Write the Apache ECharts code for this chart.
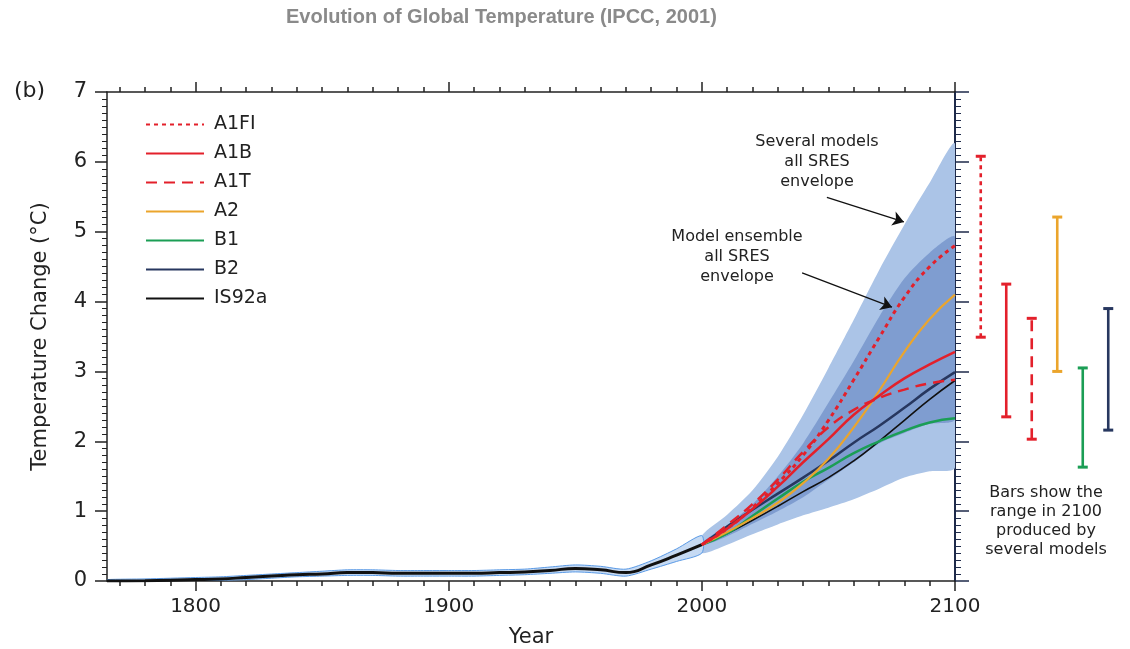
<!DOCTYPE html>
<html>
<head>
<meta charset="utf-8">
<title>Evolution of Global Temperature</title>
<script src="https://cdn.jsdelivr.net/npm/echarts@6/dist/echarts.min.js"></script>
<style>
  html, body { margin: 0; padding: 0; background: #fff; }
  #chart { width: 1130px; height: 649px; }
</style>
</head>
<body>
<div id="chart"></div>
<script>
// historical part (1765-2000)
const histYears = [1765, 1780, 1800, 1810, 1820, 1830, 1840, 1850, 1860, 1870, 1880, 1890, 1900, 1910, 1920, 1930, 1940, 1950, 1960, 1970, 1980, 1990, 2000]
const histTemp  = [0, 0.005, 0.02, 0.03, 0.05, 0.07, 0.09, 0.1, 0.12, 0.12, 0.11, 0.11, 0.11, 0.11, 0.12, 0.13, 0.15, 0.18, 0.16, 0.12, 0.23, 0.37, 0.52]
const histHigh  = [0.02, 0.03, 0.05, 0.06, 0.08, 0.1, 0.12, 0.14, 0.16, 0.16, 0.15, 0.15, 0.15, 0.15, 0.16, 0.17, 0.2, 0.23, 0.21, 0.17, 0.29, 0.46, 0.65]
const histLow   = [0, 0, 0, 0.01, 0.02, 0.04, 0.06, 0.07, 0.08, 0.08, 0.07, 0.07, 0.07, 0.07, 0.08, 0.09, 0.11, 0.13, 0.11, 0.07, 0.17, 0.28, 0.4]

// projections (2000-2100)
const futureYears = [2000, 2010, 2020, 2030, 2040, 2050, 2060, 2070, 2080, 2090, 2100]
const outerHigh = [0.65, 0.95, 1.3, 1.78, 2.38, 3.05, 3.74, 4.45, 5.1, 5.7, 6.25]
const outerLow  = [0.4, 0.52, 0.67, 0.81, 0.94, 1.05, 1.17, 1.32, 1.48, 1.57, 1.63]
const innerHigh = [0.55, 0.8, 1.1, 1.5, 1.97, 2.55, 3.15, 3.78, 4.33, 4.7, 4.92]
const innerLow  = [0.5, 0.64, 0.82, 1.0, 1.2, 1.45, 1.7, 1.97, 2.12, 2.25, 2.32]

const a1fi  = [0.52, 0.75, 1.05, 1.4, 1.8, 2.3, 2.88, 3.48, 4.06, 4.5, 4.8]
const a1b   = [0.52, 0.75, 1.03, 1.35, 1.7, 2.03, 2.38, 2.65, 2.9, 3.1, 3.28]
const a1t   = [0.52, 0.8, 1.1, 1.45, 1.85, 2.2, 2.45, 2.62, 2.74, 2.83, 2.88]
const a2    = [0.52, 0.7, 0.9, 1.12, 1.4, 1.75, 2.2, 2.72, 3.28, 3.75, 4.1]
const b1    = [0.52, 0.68, 0.93, 1.18, 1.42, 1.62, 1.83, 2.0, 2.15, 2.27, 2.33]
const b2    = [0.52, 0.78, 1.02, 1.25, 1.48, 1.72, 1.98, 2.22, 2.48, 2.75, 2.99]
const is92a = [0.52, 0.68, 0.87, 1.07, 1.28, 1.48, 1.72, 2.0, 2.3, 2.6, 2.87]

// ranges in 2100 (bars on the right)
const rangeNames = ['A1FI', 'A1B', 'A1T', 'A2', 'B1', 'B2']
const rangeLow   = [3.49, 2.35, 2.03, 3.0, 1.63, 2.16]
const rangeHigh  = [6.08, 4.25, 3.76, 5.21, 3.05, 3.9]

// tick labels
const majorYears = [1800, 1900, 2000, 2100]
const minorYears = Array.from({ length: 34 }, (_, i) => 1770 + i * 10)

const RED = '#e3202b'
const ORANGE = '#eba52c'
const GREEN = '#1b9e55'
const NAVY = '#27375f'
const BLACK = '#111111'
const FONT = 'DejaVu Sans'
const INK = '#222222'

const barStyles = [
  { color: RED, dash: [4, 4] },
  { color: RED, dash: null },
  { color: RED, dash: [11, 7] },
  { color: ORANGE, dash: null },
  { color: GREEN, dash: null },
  { color: NAVY, dash: null }
]

const pairs = (xs, ys) => xs.map((x, i) => [x, ys[i]])

const chart = echarts.init(document.getElementById('chart'))

const axisLineStyle = { color: INK, width: 1.5 }

const xCommon = {
  type: 'value',
  gridIndex: 0,
  min: 1765,
  max: 2100,
  splitLine: { show: false }
}

// filled envelope between two curves
const band = (xs, lo, hi, fill, stroke, z) => ({
  type: 'custom',
  xAxisIndex: 0,
  yAxisIndex: 0,
  z,
  silent: true,
  clip: true,
  data: xs.map((x, i) => [x, lo[i], hi[i]]),
  encode: { x: 0, y: [1, 2] },
  renderItem: (params, api) => {
    if (params.dataIndex !== 0) return null
    const top = xs.map((x, i) => api.coord([x, hi[i]]))
    const bot = xs.map((x, i) => api.coord([x, lo[i]])).reverse()
    return {
      type: 'polygon',
      shape: { points: top.concat(bot), smooth: 0.25 },
      style: { fill, stroke: stroke || null, lineWidth: stroke ? 1 : 0 }
    }
  }
})

const scenario = (name, values, color, width, type) => ({
  name,
  type: 'line',
  z: 5,
  smooth: true,
  symbol: 'none',
  data: pairs(futureYears, values),
  itemStyle: { color },
  lineStyle: { color, width, type }
})

const option = {
  animation: false,
  backgroundColor: '#ffffff',
  title: {
    text: 'Evolution of Global Temperature (IPCC, 2001)',
    left: 286,
    top: 7,
    padding: 0,
    textStyle: { color: '#8a8a8a', fontSize: 20, fontWeight: 'bold', fontFamily: 'Liberation Sans' }
  },
  legend: {
    orient: 'vertical',
    left: 145,
    top: 115,
    padding: 0,
    itemWidth: 58,
    itemHeight: 14,
    itemGap: 10,
    itemStyle: { opacity: 0 },
    textStyle: { color: INK, fontSize: 19, fontFamily: FONT, padding: [0, 0, 0, 5] },
    data: ['A1FI', 'A1B', 'A1T', 'A2', 'B1', 'B2', 'IS92a']
  },
  grid: [
    { left: 107, right: 175, top: 92, bottom: 68, outerBoundsMode: 'none' },
    { left: 968, right: 9, top: 92, bottom: 68, outerBoundsMode: 'none' }
  ],
  xAxis: [
    {
      ...xCommon,
      position: 'bottom',
      name: 'Year',
      nameLocation: 'middle',
      nameGap: 46,
      nameTextStyle: { color: INK, fontSize: 21, fontFamily: FONT },
      axisLine: { lineStyle: axisLineStyle },
      axisTick: { customValues: majorYears, length: 10, lineStyle: axisLineStyle },
      axisLabel: { customValues: majorYears, margin: 16, color: INK, fontSize: 20, fontFamily: FONT, formatter: v => String(v) }
    },
    {
      ...xCommon,
      position: 'bottom',
      axisLine: { show: false },
      axisTick: { customValues: minorYears, length: 5, lineStyle: axisLineStyle },
      axisLabel: { show: false }
    },
    {
      ...xCommon,
      position: 'top',
      axisLine: { lineStyle: axisLineStyle },
      axisTick: { customValues: majorYears, length: 10, lineStyle: axisLineStyle },
      axisLabel: { show: false }
    },
    {
      ...xCommon,
      position: 'top',
      axisLine: { show: false },
      axisTick: { customValues: minorYears, length: 5, lineStyle: axisLineStyle },
      axisLabel: { show: false }
    },
    {
      type: 'category',
      gridIndex: 1,
      data: rangeNames,
      show: false
    }
  ],
  yAxis: [
    {
      type: 'value',
      gridIndex: 0,
      position: 'left',
      min: 0,
      max: 7,
      interval: 1,
      name: 'Temperature Change (°C)',
      nameLocation: 'middle',
      nameGap: 56,
      nameTextStyle: { color: INK, fontSize: 21, fontFamily: FONT },
      splitLine: { show: false },
      axisLine: { show: true, lineStyle: axisLineStyle },
      axisTick: { show: true, length: 12, lineStyle: axisLineStyle },
      minorTick: { show: true, splitNumber: 10, length: 5, lineStyle: { color: INK, width: 1 } },
      axisLabel: { margin: 20, color: INK, fontSize: 21, fontFamily: FONT }
    },
    {
      type: 'value',
      gridIndex: 0,
      position: 'right',
      min: 0,
      max: 7,
      interval: 1,
      splitLine: { show: false },
      axisLine: { show: true, lineStyle: { color: '#1e2a4a', width: 2 } },
      axisTick: { show: true, length: 14, lineStyle: { color: '#1e2a4a', width: 1.5 } },
      minorTick: { show: true, splitNumber: 10, length: 6, lineStyle: { color: '#1e2a4a', width: 1 } },
      axisLabel: { show: false }
    },
    {
      type: 'value',
      gridIndex: 1,
      min: 0,
      max: 7,
      show: false
    }
  ],
  graphic: [
    {
      type: 'text', left: 14, top: 80,
      style: { text: '(b)', fontSize: 22, fontFamily: FONT, fill: INK }
    },
    {
      type: 'text', x: 817, y: 132,
      style: { text: 'Several models\nall SRES\nenvelope', fontSize: 16, lineHeight: 20, fontFamily: FONT, fill: INK, align: 'center' }
    },
    {
      type: 'text', x: 737, y: 227,
      style: { text: 'Model ensemble\nall SRES\nenvelope', fontSize: 16, lineHeight: 20, fontFamily: FONT, fill: INK, align: 'center' }
    },
    {
      type: 'text', x: 1046, y: 483,
      style: { text: 'Bars show the\nrange in 2100\nproduced by\nseveral models', fontSize: 16, lineHeight: 19, fontFamily: FONT, fill: INK, align: 'center' }
    }
  ],
  series: [
    band(futureYears, outerLow, outerHigh, '#abc4e7', null, 1),
    band(futureYears, innerLow, innerHigh, '#7f9dd0', null, 2),
    band(histYears, histLow, histHigh, '#c6daf3', '#5a9ae6', 3),
    {
      type: 'line',
      z: 4,
      smooth: true,
      symbol: 'none',
      silent: true,
      data: pairs(histYears, histTemp),
      lineStyle: { color: BLACK, width: 3 }
    },
    scenario('IS92a', is92a, BLACK, 1.6, 'solid'),
    scenario('B1', b1, GREEN, 2.5, 'solid'),
    scenario('B2', b2, NAVY, 2.5, 'solid'),
    scenario('A2', a2, ORANGE, 2.2, 'solid'),
    scenario('A1B', a1b, RED, 2.5, 'solid'),
    scenario('A1T', a1t, RED, 2.5, [11, 7]),
    scenario('A1FI', a1fi, RED, 3, [4, 4]),
    {
      type: 'lines',
      coordinateSystem: 'cartesian2d',
      xAxisIndex: 0,
      yAxisIndex: 0,
      z: 6,
      silent: true,
      symbol: ['none', 'arrow'],
      symbolSize: 11,
      lineStyle: { color: BLACK, width: 1.3, opacity: 1 },
      data: [
        { coords: [[2049.4, 5.49], [2079.8, 5.14]] },
        { coords: [[2039.6, 4.41], [2075.1, 3.92]] }
      ]
    },
    {
      type: 'custom',
      xAxisIndex: 4,
      yAxisIndex: 2,
      silent: true,
      data: rangeNames.map((n, i) => [i, rangeLow[i], rangeHigh[i]]),
      encode: { x: 0, y: [1, 2] },
      renderItem: (params, api) => {
        const i = api.value(0)
        const lo = api.coord([i, api.value(1)])
        const hi = api.coord([i, api.value(2)])
        const st = barStyles[i]
        const cap = 5
        const capStyle = { stroke: st.color, lineWidth: 3 }
        return {
          type: 'group',
          children: [
            { type: 'line', shape: { x1: lo[0], y1: lo[1], x2: hi[0], y2: hi[1] }, style: { stroke: st.color, lineWidth: 2.6, lineDash: st.dash } },
            { type: 'line', shape: { x1: lo[0] - cap, y1: lo[1], x2: lo[0] + cap, y2: lo[1] }, style: capStyle },
            { type: 'line', shape: { x1: hi[0] - cap, y1: hi[1], x2: hi[0] + cap, y2: hi[1] }, style: capStyle }
          ]
        }
      }
    }
  ]
}

chart.setOption(option)
</script>
</body>
</html>
